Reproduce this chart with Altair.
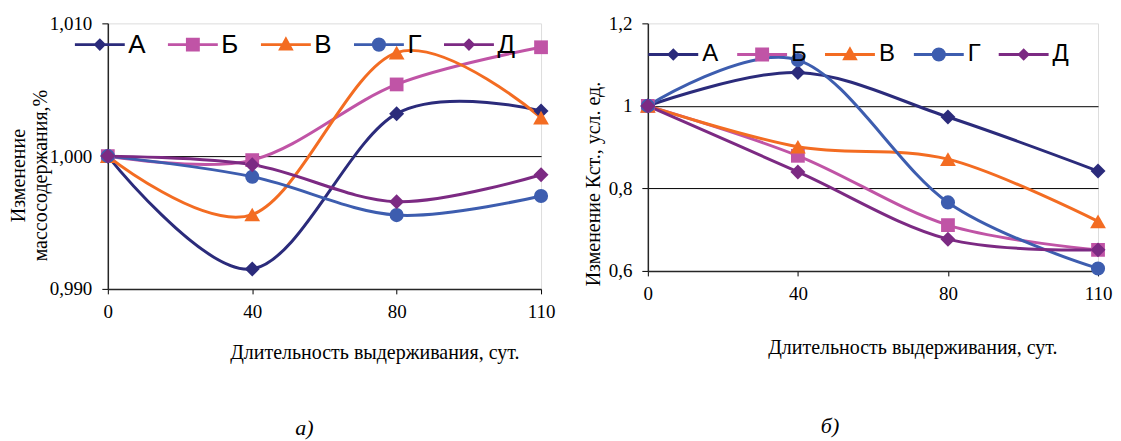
import altair as alt
import pandas as pd

# ---------------- data ----------------
days = ["0", "40", "80", "110"]
series = ["А", "Б", "В", "Г", "Д"]
colors = ["#2B2B7B", "#C054A6", "#F36C22", "#3D5DAF", "#7C2A83"]
shapes = ["diamond", "square", "triangle-up", "circle", "diamond"]
marker_sizes = [225, 190, 250, 200, 225]

# panel a) mass content change, %
mass_A = [1.000, 0.9915, 1.0032, 1.0034]
mass_B = [1.000, 0.9997, 1.0054, 1.0082]
mass_V = [1.000, 0.9956, 1.0078, 1.0029]
mass_G = [1.000, 0.99845, 0.99556, 0.9970]
mass_D = [1.000, 0.99935, 0.99657, 0.9986]

# panel б) Kst change
kst_A = [1.000, 1.081, 0.973, 0.842]
kst_B = [1.000, 0.879, 0.711, 0.651]
kst_V = [1.000, 0.901, 0.871, 0.720]
kst_G = [1.000, 1.111, 0.766, 0.606]
kst_D = [1.000, 0.840, 0.677, 0.651]

left_ticks = [0.990, 1.000, 1.010]
right_ticks = [0.6, 0.8, 1.0, 1.2]

x_title = "Длительность выдерживания, сут."
left_y_title = ["Изменение", "массосодержания,%"]
right_y_title = "Изменение Кст., усл. ед."


def frame(rows):
    recs = []
    for s, vals in zip(series, rows):
        for d, v in zip(days, vals):
            recs.append({"day": d, "series": s, "value": v})
    return pd.DataFrame(recs)


df_left = frame([mass_A, mass_B, mass_V, mass_G, mass_D])
df_right = frame([kst_A, kst_B, kst_V, kst_G, kst_D])

# legend symbols: a line with the marker in its middle (units of 7 px)
HALF = 3.57
marker_paths = {
    "diamond": "M-0.6,0L0,-0.6L0.6,0L0,0.6Z",
    "square": "M-0.78,-0.78L0.78,-0.78L0.78,0.78L-0.78,0.78Z",
    "triangle-up": "M-0.75,0.62L0,-0.75L0.75,0.62Z",
    "circle": "M-0.8,0A0.8,0.8,0,1,0,0.8,0A0.8,0.8,0,1,0,-0.8,0Z",
}
legend_paths = [f"M-{HALF},0L{HALF},0" + marker_paths[sh] for sh in shapes]

SERIF = "Times New Roman, Liberation Serif, DejaVu Serif, serif"
SANS = "Arial, Liberation Sans, sans-serif"

INDEP = dict(color="independent", fill="independent", stroke="independent", shape="independent")


def panel(df, width, height, domain, ticks, label_expr, grid_test, y_title,
          ytx, yty, xtx, xty, legend, caption, cap_dx, cap_offset):
    xenc = alt.X(
        "day:O", sort=days,
        scale=alt.Scale(type="point", padding=0),
        axis=alt.Axis(
            title=x_title, labelAngle=0, grid=False,
            labelFont=SERIF, labelFontSize=19, labelColor="black", labelPadding=9,
            tickSize=5, tickColor="black", domainColor="#262626", domainWidth=1.5,
            titleFont=SERIF, titleFontSize=20, titleFontWeight="normal", titleColor="black",
            titleX=xtx, titleY=xty, titleAlign="center", titleBaseline="middle",
        ),
    )
    yenc = alt.Y(
        "value:Q",
        scale=alt.Scale(domain=domain, nice=False, zero=False),
        axis=alt.Axis(
            title=y_title, values=ticks, labelExpr=label_expr,
            labelFont=SERIF, labelFontSize=19, labelColor="black", labelPadding=10,
            tickSize=6, tickColor="black", domainColor="#262626", domainWidth=1.5,
            grid=True, gridWidth=1,
            gridColor={"condition": {"test": grid_test, "value": "black"}, "value": "transparent"},
            titleFont=SERIF, titleFontSize=20, titleFontWeight="normal", titleColor="black",
            titleX=ytx, titleY=yty, titleAlign="center", titleBaseline="bottom",
            titleLineHeight=22,
        ),
    )
    cenc = alt.Color("series:N", scale=alt.Scale(range=colors), legend=None)
    base = alt.Chart(df).encode(x=xenc, y=yenc)
    layers = [base.mark_line(interpolate="cardinal", strokeWidth=3).encode(color=cenc)]
    for s, sh, sz in zip(series, shapes, marker_sizes):
        layers.append(
            base.transform_filter(alt.datum.series == s)
            .mark_point(filled=True, opacity=1, shape=sh, size=sz)
            .encode(color=cenc)
        )
    # legend-only layer (zero-size marks)
    layers.append(
        base.mark_point(filled=True, opacity=1, size=0, strokeWidth=3).encode(
            fill=alt.Fill("series:N", scale=alt.Scale(domain=series, range=colors), legend=legend),
            stroke=alt.Stroke("series:N", scale=alt.Scale(domain=series, range=colors), legend=legend),
            shape=alt.Shape("series:N", scale=alt.Scale(domain=series, range=legend_paths), legend=legend),
        )
    )
    return alt.layer(*layers).properties(
        width=width, height=height,
        title=alt.TitleParams(
            caption, orient="bottom", anchor="middle", frame="group", dx=cap_dx,
            offset=cap_offset, font=SERIF, fontSize=22, fontStyle="italic",
            fontWeight="normal", color="black",
        ),
    )


common_legend = dict(
    orient="none", direction="horizontal", columns=5, symbolSize=196,
    symbolStrokeWidth=3, symbolOpacity=1, symbolFillColor="black",
    symbolStrokeColor="black", labelFont=SANS, labelColor="black", padding=0,
)
legend_left = alt.Legend(
    title=None, legendX=-21, legendY=8.3, labelFontSize=26,
    labelOffset=15.5, columnPadding=16.2, **common_legend,
)
legend_right = alt.Legend(
    title=None, legendX=13.5, legendY=19.2, labelFontSize=24,
    labelOffset=17, columnPadding=12, **common_legend,
)

left = panel(
    df_left, 434, 266, [0.990, 1.010], left_ticks,
    "replace(format(datum.value, '.3f'), '.', ',')",
    "abs(datum.value - 1) < 0.0001", left_y_title,
    -79, 152, 267, 63.5, legend_left, "а)", -20, 56,
)
right = panel(
    df_right, 451, 248, [0.6, 1.2], right_ticks,
    "replace(format(datum.value, '~g'), '.', ',')",
    "datum.value > 0.7 && datum.value < 1.1", right_y_title,
    -44, 160.5, 265, 77, legend_right, "б)", -43, 58.6,
)

chart = alt.hconcat(left, right, spacing=27).resolve_scale(**INDEP).resolve_legend(
    **INDEP
).properties(
    padding={"left": 0, "top": 5, "right": 0, "bottom": 0}
).configure_view(
    stroke="#A6A6A6", strokeWidth=2
).configure(background="white")

chart.save("out.html", embed_options={"renderer": "svg", "actions": False})
